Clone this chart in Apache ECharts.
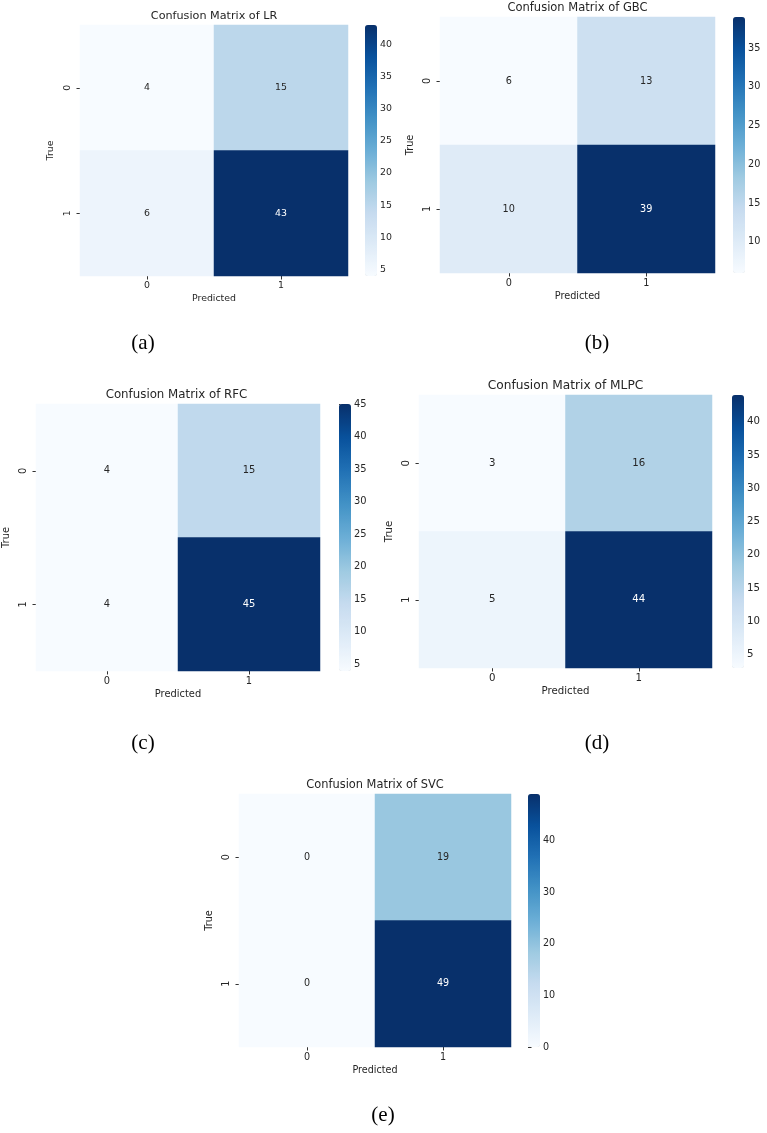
<!DOCTYPE html>
<html>
<head>
<meta charset="utf-8">
<title>Confusion matrices</title>
<script src="https://cdn.jsdelivr.net/npm/echarts@6/dist/echarts.min.js"></script>
<style>
    html, body { margin: 0; padding: 0; background: #fff; }
    #main { width: 767px; height: 1133px; }
</style>
</head>
<body>
<div id="main"></div>
<script>
    // class labels on both axes
    var classLabels = ['0', '1'];
    var modelNames = ['LR', 'GBC', 'RFC', 'MLPC', 'SVC'];
    var panelTags = ['(a)', '(b)', '(c)', '(d)', '(e)'];

    // rows = true class, cols = predicted class
    var cmLR = [[4, 15], [6, 43]];
    var cmGBC = [[6, 13], [10, 39]];
    var cmRFC = [[4, 15], [4, 45]];
    var cmMLPC = [[3, 16], [5, 44]];
    var cmSVC = [[0, 19], [0, 49]];

    // colorbar tick labels
    var ticksLR = [5, 10, 15, 20, 25, 30, 35, 40];
    var ticksGBC = [10, 15, 20, 25, 30, 35];
    var ticksRFC = [5, 10, 15, 20, 25, 30, 35, 40, 45];
    var ticksMLPC = [5, 10, 15, 20, 25, 30, 35, 40];
    var ticksSVC = [0, 10, 20, 30, 40];

    var matrices = [cmLR, cmGBC, cmRFC, cmMLPC, cmSVC];
    var tickSets = [ticksLR, ticksGBC, ticksRFC, ticksMLPC, ticksSVC];

    // matplotlib "Blues"
    var blues = ['#f7fbff', '#deebf7', '#c6dbef', '#9ecae1', '#6baed6',
                 '#4292c6', '#2171b5', '#08519c', '#08306b'];

    // where each panel sits on the page (px), fs = title font size (sub-figures are scaled differently)
    var boxes = [
        {left: 80,  top: 25,  width: 268, height: 251, bar: 365, fs: 11.2, tagX: 143, tagY: 343},
        {left: 440, top: 17,  width: 275, height: 256, bar: 733, fs: 11.5, tagX: 597, tagY: 343},
        {left: 33,  top: 404, width: 287, height: 267, bar: 339, fs: 11.8, tagX: 143, tagY: 743},
        {left: 419, top: 395, width: 293, height: 273, bar: 732, fs: 12.2, tagX: 597, tagY: 743},
        {left: 239, top: 794, width: 272, height: 253, bar: 528, fs: 11.4, tagX: 383, tagY: 1115}
    ];

    var font = 'DejaVu Sans';
    var txt = '#262626';

    var grids = [], xAxes = [], yAxes = [], series = [], visualMaps = [], graphics = [];

    matrices.forEach(function (cm, i) {
        var b = boxes[i];
        var fs = Math.round(b.fs * 0.84 * 10) / 10;   // tick / label size
        var flat = [];
        cm.forEach(function (row) { row.forEach(function (v) { flat.push(v); }); });
        var lo = Math.min.apply(null, flat), hi = Math.max.apply(null, flat);

        /* heatmap grid */
        grids.push({left: b.left, top: b.top, width: b.width, height: b.height});
        xAxes.push({
            type: 'category', gridIndex: 2 * i, data: classLabels,
            name: 'Predicted', nameLocation: 'middle', nameGap: 18,
            nameTextStyle: {fontFamily: font, fontSize: fs, color: txt},
            axisLine: {show: false},
            axisTick: {show: true, alignWithLabel: true, length: 3.5, lineStyle: {color: '#333'}},
            axisLabel: {fontFamily: font, fontSize: fs, color: txt, margin: 5},
            splitLine: {show: false}
        });
        yAxes.push({
            type: 'category', gridIndex: 2 * i, data: classLabels, inverse: true,
            name: 'True', nameLocation: 'middle', nameGap: 25, nameRotate: 90,
            nameTextStyle: {fontFamily: font, fontSize: fs, color: txt},
            axisLine: {show: false},
            axisTick: {show: true, alignWithLabel: true, length: 3.5, lineStyle: {color: '#333'}},
            axisLabel: {fontFamily: font, fontSize: fs, color: txt, margin: 8, rotate: 90},
            splitLine: {show: false}
        });

        /* colorbar grid, only used for its tick axis */
        grids.push({left: b.bar, top: b.top, width: 12, height: b.height});
        xAxes.push({type: 'value', gridIndex: 2 * i + 1, min: 0, max: 1, show: false});
        yAxes.push({
            type: 'value', gridIndex: 2 * i + 1, min: lo, max: hi, position: 'right',
            axisLine: {show: false},
            splitLine: {show: false},
            axisTick: {show: true, length: 3.5, lineStyle: {color: '#333'}, customValues: tickSets[i]},
            axisLabel: {fontFamily: font, fontSize: fs, color: txt, margin: 3, customValues: tickSets[i]}
        });

        var data = [];
        cm.forEach(function (row, r) {
            row.forEach(function (v, c) {
                var t = hi > lo ? (v - lo) / (hi - lo) : 0;
                data.push({value: [c, r, v], label: {color: t > 0.6 ? '#ffffff' : txt}});
            });
        });
        series.push({
            type: 'heatmap', name: modelNames[i],
            xAxisIndex: 2 * i, yAxisIndex: 2 * i,
            data: data,
            label: {show: true, fontFamily: font, fontSize: fs},
            itemStyle: {borderWidth: 0},
            emphasis: {disabled: true}
        });

        visualMaps.push({
            type: 'continuous', seriesIndex: i, dimension: 2,
            min: lo, max: hi, inRange: {color: blues},
            show: true, calculable: false, hoverLink: false, orient: 'vertical',
            left: b.bar, top: b.top, itemWidth: 12, itemHeight: b.height,
            padding: 0, text: null
        });

        graphics.push({
            type: 'text', x: b.left + b.width / 2, y: b.top - 9,
            style: {text: 'Confusion Matrix of ' + modelNames[i], fontFamily: font, fontSize: b.fs,
                    fill: txt, textAlign: 'center', textVerticalAlign: 'middle'}
        });
        graphics.push({
            type: 'text', x: b.tagX, y: b.tagY,
            style: {text: panelTags[i], fontFamily: 'Liberation Serif', fontSize: 21,
                    fill: '#000', textAlign: 'center', textVerticalAlign: 'middle'}
        });
    });

    var chart = echarts.init(document.getElementById('main'));
    chart.setOption({
        animation: false,
        grid: grids,
        xAxis: xAxes,
        yAxis: yAxes,
        visualMap: visualMaps,
        series: series,
        graphic: graphics
    });
</script>
</body>
</html>
